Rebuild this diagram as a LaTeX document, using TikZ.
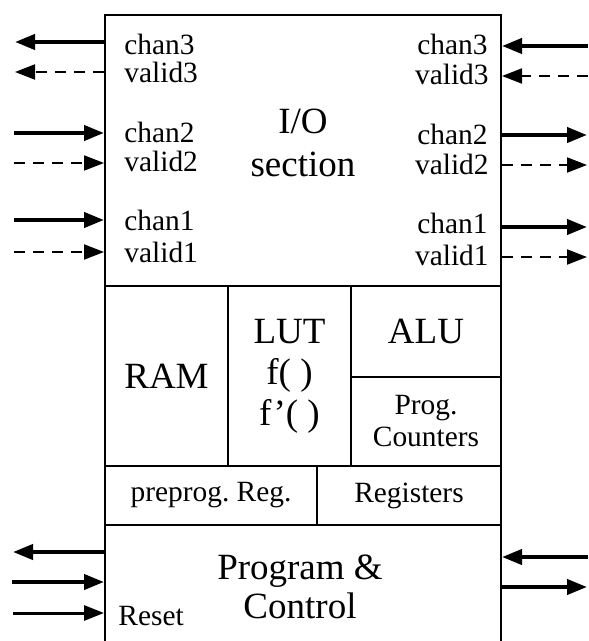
\documentclass[tikz,border=0pt]{standalone}
\usepackage{fontspec}
\setmainfont{Liberation Serif}
\usetikzlibrary{arrows.meta, positioning}
\newcommand{\sigsize}{\fontsize{14.7}{16}\selectfont}
\newcommand{\blksize}{\fontsize{18.5}{20.5}\selectfont}
\tikzset{
  part/.style={draw, line width=1pt, inner sep=0pt, align=center},
  sig/.style={font=\sigsize, inner sep=0pt},
  blk/.style={font=\blksize, align=center, inner sep=0pt},
  bus/.style={-{Triangle[length=10pt,width=7.5pt]}, line width=2pt},
  flag/.style={-{Triangle[length=10pt,width=7.5pt]}, line width=1pt, dash pattern=on 5.5pt off 4pt},
}

\begin{document}
\begin{tikzpicture}[x=0.5pt,y=-0.5pt]
\useasboundingbox (0,0) rectangle (588,641);
\clip (0,0) rectangle (588,641);
% block outline
\node[part, minimum width=198pt, minimum height=135.5pt] (io) at (303,150.5) {};
\node[part, blk, minimum width=61.5pt, minimum height=90pt] (ram) at (166.5,376) {RAM};
\node[part, blk, minimum width=61.5pt, minimum height=90pt] (lut) at (289.5,376) {LUT\\f( )\\f'( )};
\node[part, blk, minimum width=75pt, minimum height=45.5pt] (alu) at (426,331.5) {ALU};
\node[part, sig, minimum width=75pt, minimum height=44.5pt] (cnt) at (426,421.5) {Prog.\\Counters};
\node[part, sig, minimum width=106pt, minimum height=29.5pt] (prereg) at (211,495.5) {preprog.\ Reg.};
\node[part, sig, minimum width=92pt, minimum height=29.5pt] (regs) at (409,495.5) {Registers};
\node[part, minimum width=198pt, minimum height=87.5pt] (ctrl) at (303,612.5) {};
\node[blk] (iotxt) at (303,143) {I/O\\[1pt]section};
\node[blk] (ctrltxt) at (300,587) {Program \&\\[-1pt]Control};
% signal names
\node[sig, anchor=base west] (ch3w) at (124,55) {chan3};
\node[sig, anchor=base west] (va3w) at (124,83) {valid3};
\node[sig, anchor=base west] (ch2w) at (124,143) {chan2};
\node[sig, anchor=base west] (va2w) at (124,172) {valid2};
\node[sig, anchor=base west] (ch1w) at (124,231) {chan1};
\node[sig, anchor=base west] (va1w) at (124,263) {valid1};
\node[sig, anchor=base east] (ch3e) at (488,55) {chan3};
\node[sig, anchor=base east] (va3e) at (489,85) {valid3};
\node[sig, anchor=base east] (ch2e) at (488,145) {chan2};
\node[sig, anchor=base east] (va2e) at (489,175) {valid2};
\node[sig, anchor=base east] (ch1e) at (488,234) {chan1};
\node[sig, anchor=base east] (va1e) at (489,265) {valid1};
\node[sig, anchor=base west] (reset) at (118,625) {Reset};
% ports
\coordinate (pc3w) at (15,42);
\coordinate (pv3w) at (15,72);
\coordinate (pc2w) at (14,133);
\coordinate (pv2w) at (14,163);
\coordinate (pc1w) at (14,220);
\coordinate (pv1w) at (14,252);
\coordinate (pc3e) at (588,46);
\coordinate (pv3e) at (588,76);
\coordinate (pc2e) at (587,135);
\coordinate (pv2e) at (587,165);
\coordinate (pc1e) at (587,227);
\coordinate (pv1e) at (587,257);
\coordinate (pk1w) at (13,552);
\coordinate (pk2w) at (12,582);
\coordinate (prst) at (13,613);
\coordinate (pk1e) at (588,557);
\coordinate (pk2e) at (587,587);
\draw[bus] (io.west |- pc3w) -- (pc3w);
\draw[flag] (io.west |- pv3w) -- (pv3w);
\draw[bus] (pc2w) -- (io.west |- pc2w);
\draw[flag] (pv2w) -- (io.west |- pv2w);
\draw[bus] (pc1w) -- (io.west |- pc1w);
\draw[flag] (pv1w) -- (io.west |- pv1w);
\draw[bus] (pc3e) -- (io.east |- pc3e);
\draw[flag] (pv3e) -- (io.east |- pv3e);
\draw[bus] (io.east |- pc2e) -- (pc2e);
\draw[flag] (io.east |- pv2e) -- (pv2e);
\draw[bus] (io.east |- pc1e) -- (pc1e);
\draw[flag] (io.east |- pv1e) -- (pv1e);
\draw[bus] (ctrl.west |- pk1w) -- (pk1w);
\draw[bus] (pk2w) -- (ctrl.west |- pk2w);
\draw[bus, line width=1.5pt] (prst) -- (ctrl.west |- prst);
\draw[bus] (pk1e) -- (ctrl.east |- pk1e);
\draw[bus] (ctrl.east |- pk2e) -- (pk2e);
\end{tikzpicture}
\end{document}
